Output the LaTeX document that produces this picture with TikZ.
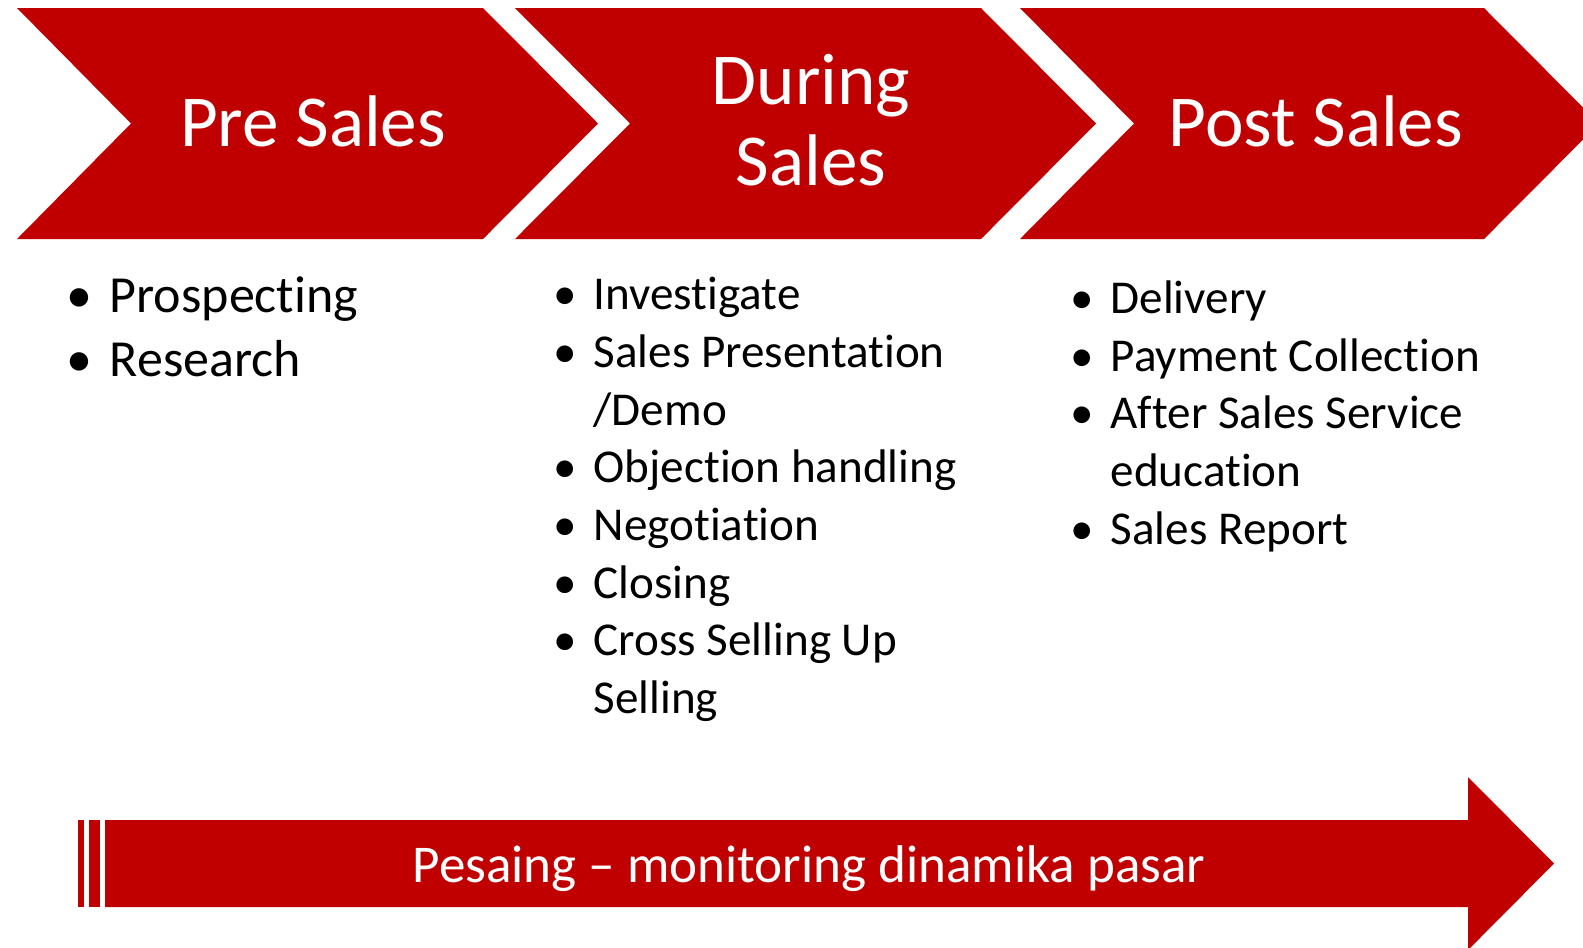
\documentclass[tikz,border=0pt]{standalone}
\usepackage{fontspec}
\setmainfont{Carlito}[Ligatures={NoCommon}]
\definecolor{salesred}{RGB}{192,0,0}
\newcommand{\bul}{\llap{\textbullet\hspace{0.17cm}}}
\tikzset{
  stage/.style={text=white,inner sep=0pt,anchor=base,align=center,
    font=\fontsize{20.8pt}{22.8pt}\selectfont},
  bigitems/.style={inner sep=0pt,anchor=base west,align=left,
    font=\fontsize{14.8pt}{18.2pt}\selectfont},
  items/.style={inner sep=0pt,anchor=base west,align=left,
    font=\fontsize{13.4pt}{16.4pt}\selectfont},
  bartext/.style={text=white,inner sep=0pt,anchor=base,
    font=\fontsize{15.1pt}{18pt}\selectfont},
}
\begin{document}
\begin{tikzpicture}[x=0.01cm,y=-0.01cm]
        \useasboundingbox (0,0) rectangle (1583,947);
        %% stage chevrons
        \fill[salesred] (17,8) -- (483,8) -- (598,123.5) -- (483,239) -- (17,239) -- (131,123.5) -- cycle;
        \fill[salesred] (515,8) -- (981,8) -- (1096,123.5) -- (981,239) -- (515,239) -- (630,123.5) -- cycle;
        \fill[salesred] (1020,8) -- (1484,8) -- (1599,123.5) -- (1484,239) -- (1020,239) -- (1134,123.5) -- cycle;
        \node[stage] (pre) at (313,146) {Pre Sales};
        %% base of a two-line node is its last line
        \node[stage] (during) at (811,185) {During\\Sales};
        \node[stage] (post) at (1316,146) {Post Sales};
        %% activities per stage (placed at the baseline of the last line)
        \node[bigitems] (prelist) at (109,376) {\bul Prospecting\\\bul Research};
        \node[items] (duringlist) at (593,713.5) {\bul Investigate\\\bul Sales Presentation\\/Demo\\\bul Objection handling\\\bul Negotiation\\\bul Closing\\\bul Cross Selling Up\\Selling};
        \node[items] (postlist) at (1110,544) {\bul Delivery\\\bul Payment Collection\\\bul After Sales Service\\education\\\bul Sales Report};
        %% market arrow
        \fill[salesred] (78,820) rectangle (84,907);
        \fill[salesred] (89,820) rectangle (100,907);
        \fill[salesred] (105,820) -- (1468,820) -- (1468,777) -- (1554,863.5) -- (1468,950) -- (1468,907) -- (105,907) -- cycle;
        \node[bartext] (market) at (809,882) {Pesaing – monitoring dinamika pasar};
\end{tikzpicture}
\end{document}
